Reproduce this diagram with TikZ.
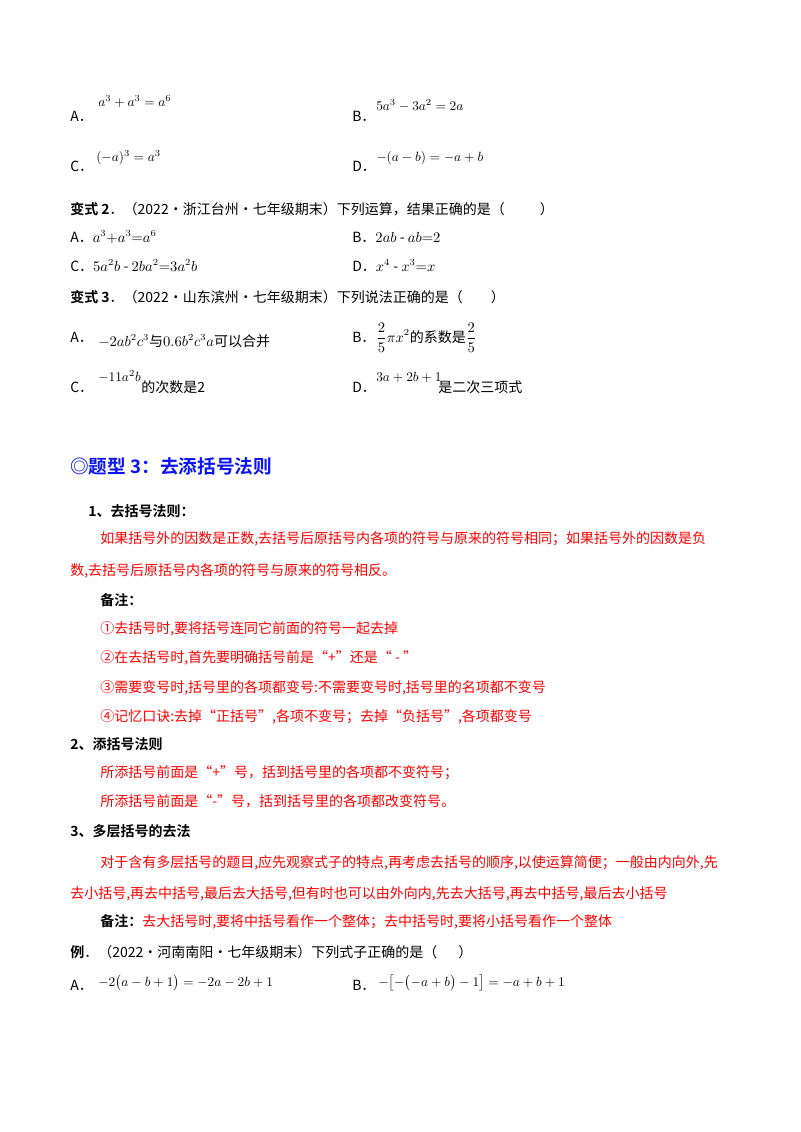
\documentclass[tikz,border=0pt]{standalone}
\usepackage{fontspec}
\setmainfont{Liberation Serif}
\newfontfamily\cjk{Noto Sans CJK SC}
\newfontfamily\cjkb{Noto Sans CJK SC Bold}
\definecolor{myred}{HTML}{FF0000}
\definecolor{ttl}{HTML}{0A14F0}
\begin{document}
\begin{tikzpicture}[x=0.75pt,y=-0.75pt,
  t/.style={anchor=base west,inner sep=0pt,font=\fontsize{10.5}{12}\selectfont\cjk},
  m/.style={anchor=base west,inner sep=0pt,font=\fontsize{10}{12}\selectfont},
  rd/.style={text=myred}]
\useasboundingbox (0,0) rectangle (800,1132);
% top options
\node[t] (a1) at (70,121) {A．};
\node[m] (a1f) at (98,106) {$a^3+a^3=a^6$};
\node[t] (b1) at (352,121) {B．};
\node[m] (b1f) at (376,110) {$5a^3-3a^2=2a$};
\node[t] (c1) at (70,171) {C．};
\node[m] (c1f) at (96,161) {$(-a)^3=a^3$};
\node[t] (d1) at (352,171) {D．};
\node[m] (d1f) at (376,161) {$-(a-b)=-a+b$};
% 变式2
\node[t] (v2) at (70,214) {{\cjkb 变式 2}．（2022·浙江台州·七年级期末）下列运算，结果正确的是（\hspace{2.5em}）};
\node[t] (a2) at (70,242) {A．$a^3{+}a^3{=}a^6$};
\node[t] (b2) at (352,242) {B．$2ab$ - $ab{=}2$};
\node[t] (c2) at (70,271) {C．$5a^2b$ - $2ba^2{=}3a^2b$};
\node[t] (d2) at (352,271) {D．$x^4$ - $x^3{=}x$};
% 变式3
\node[t] (v3) at (70,302) {{\cjkb 变式 3}．（2022·山东滨州·七年级期末）下列说法正确的是（\hspace{2em}）};
\node[t] (a3) at (70,342) {A．};
\node[t] (a3f) at (98,346) {$-2ab^2c^3$与$0.6b^2c^3a$可以合并};
\node[t] (b3) at (352,342) {B．};
\node[t] (b3f) at (376,342) {$\displaystyle\frac{2}{5}\pi x^2$的系数是$\displaystyle\frac{2}{5}$};
\node[t] (c3) at (70,392) {C．};
\node[m] (c3e) at (98,381) {$-11a^2b$};
\node[t] (c3f) at (141,392) {的次数是2};
\node[t] (d3) at (352,392) {D．};
\node[m] (d3e) at (376,381) {$3a+2b+1$};
\node[t] (d3f) at (438,392) {是二次三项式};
% title
\node[t,font=\fontsize{14}{16}\selectfont\cjkb,text=ttl] (ttl) at (70,473) {◎题型 3：去添括号法则};
\node[t,font=\fontsize{10.5}{12}\selectfont\cjkb] (h1) at (88,516) {1、去括号法则：};
\node[t,rd] (p1) at (100,543) {如果括号外的因数是正数,去括号后原括号内各项的符号与原来的符号相同；如果括号外的因数是负};
\node[t,rd] (p2) at (70,575) {数,去括号后原括号内各项的符号与原来的符号相反。};
\node[t,font=\fontsize{10.5}{12}\selectfont\cjkb] (bz) at (100,605) {备注：};
\node[t,rd] (n1) at (100,633) {①去括号时,要将括号连同它前面的符号一起去掉};
\node[t,rd] (n2) at (100,662) {②在去括号时,首先要明确括号前是“+”还是“ - ”};
\node[t,rd] (n3) at (100,692) {③需要变号时,括号里的各项都变号:不需要变号时,括号里的名项都不变号};
\node[t,rd] (n4) at (100,721) {④记忆口诀:去掉“正括号”,各项不变号；去掉“负括号”,各项都变号};
\node[t,font=\fontsize{10.5}{12}\selectfont\cjkb] (h2) at (70,749) {2、添括号法则};
\node[t,rd] (q1) at (100,777) {所添括号前面是“+”号，括到括号里的各项都不变符号；};
\node[t,rd] (q2) at (100,806) {所添括号前面是“-”号，括到括号里的各项都改变符号。};
\node[t,font=\fontsize{10.5}{12}\selectfont\cjkb] (h3) at (70,836) {3、多层括号的去法};
\node[t,rd] (r1) at (100,867) {对于含有多层括号的题目,应先观察式子的特点,再考虑去括号的顺序,以使运算简便；一般由内向外,先};
\node[t,rd] (r2) at (70,898) {去小括号,再去中括号,最后去大括号,但有时也可以由外向内,先去大括号,再去中括号,最后去小括号};
\node[t] (bz2) at (100,926) {{\cjkb 备注：}\textcolor{myred}{去大括号时,要将中括号看作一个整体；去中括号时,要将小括号看作一个整体}};
\node[t] (ex) at (70,957) {{\cjkb 例}．（2022·河南南阳·七年级期末）下列式子正确的是（\hspace{1.5em}）};
\node[t] (ea) at (70,990) {A．};
\node[m] (eaf) at (98,986) {$-2\bigl(a-b+1\bigr)=-2a-2b+1$};
\node[t] (eb) at (352,990) {B．};
\node[m] (ebf) at (378,986) {$-\bigl[-\bigl(-a+b\bigr)-1\bigr]=-a+b+1$};
\end{tikzpicture}
\end{document}
